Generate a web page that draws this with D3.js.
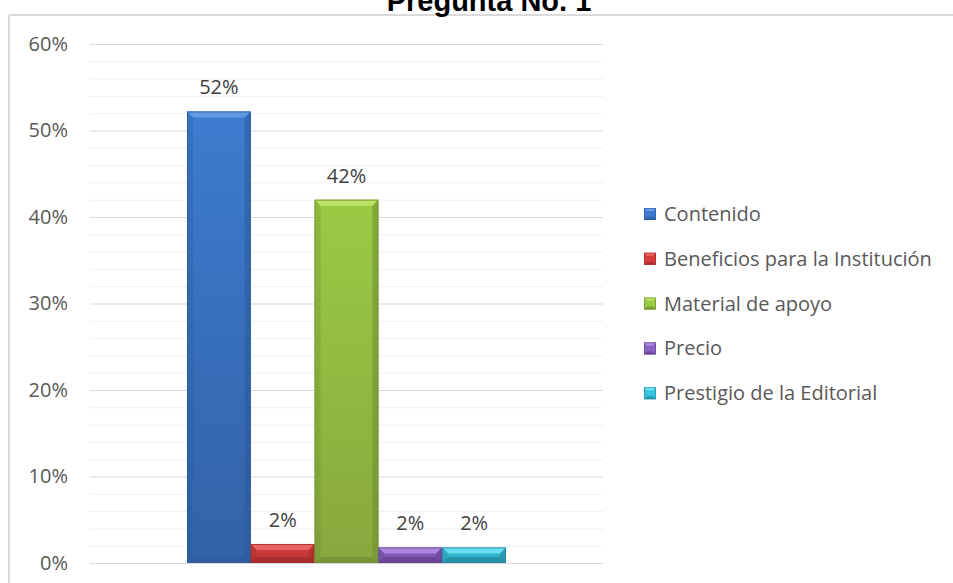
<!DOCTYPE html>
<html>
<head>
<meta charset="utf-8">
<script src="https://cdn.jsdelivr.net/npm/d3@7"></script>
<style>
  html, body { margin: 0; padding: 0; background: #fff; }
  svg text { font-family: "Open Sans", "Noto Sans", sans-serif; }
</style>
</head>
<body>
<div id="chart"></div>
<script>
// data
var series = ["Contenido", "Beneficios para la Institución", "Material de apoyo", "Precio", "Prestigio de la Editorial"];
var values = [52.2, 2.2, 42.0, 1.8, 1.8];
var labels = ["52%", "2%", "42%", "2%", "2%"];
var yTicks = [0, 10, 20, 30, 40, 50, 60];
var title = "Pregunta No. 1";

// colours per series: main, light (top bevel), dark (edges), bottom of gradient
var colors = [
  {main: "#3d7ccf", light: "#66a0e8", dark: "#2c5a9a", bottom: "#3262a6"},
  {main: "#d63e3c", light: "#ee6a68", dark: "#a02a2a", bottom: "#b83434"},
  {main: "#9acb44", light: "#c0e66a", dark: "#6e8e30", bottom: "#88a83e"},
  {main: "#8c62c4", light: "#b48ee6", dark: "#62428e", bottom: "#7650a6"},
  {main: "#36c4de", light: "#72e4f4", dark: "#23879c", bottom: "#2ea6bc"}
];

var width = 953, height = 583;
var plot = {left: 90, right: 603, top: 44, bottom: 563};

var svg = d3.select("#chart").append("svg")
  .attr("width", width)
  .attr("height", height);

// chart area border (top and left visible)
svg.append("line").attr("x1", 9).attr("x2", width).attr("y1", 15).attr("y2", 15)
  .attr("stroke", "#d9d9d9").attr("stroke-width", 2);
svg.append("line").attr("x1", 9).attr("x2", 9).attr("y1", 15).attr("y2", height)
  .attr("stroke", "#d9d9d9").attr("stroke-width", 2);

// title, cut by the top of the picture as in the source
svg.append("text")
  .attr("x", 489).attr("y", 11)
  .attr("text-anchor", "middle")
  .style("font-family", "'Liberation Sans', Arial, sans-serif")
  .style("font-weight", "bold")
  .style("font-size", "29px")
  .attr("fill", "#000")
  .text(title);

var y = d3.scaleLinear().domain([0, 60]).range([plot.bottom, plot.top]);

var x0 = d3.scaleBand().domain(["all"]).range([plot.left, plot.right])
  .paddingInner(0).paddingOuter(0.304);
var x1 = d3.scaleBand().domain(d3.range(series.length)).range([0, x0.bandwidth()]);

// minor gridlines every 2%
var minor = d3.range(0, 61, 2).filter(function (d) { return d % 10 !== 0; });
svg.append("g").selectAll("line").data(minor).enter().append("line")
  .attr("x1", plot.left).attr("x2", plot.right)
  .attr("y1", function (d) { return y(d) + 0.5; })
  .attr("y2", function (d) { return y(d) + 0.5; })
  .attr("stroke", "#f0f0f0").attr("stroke-width", 1);

// y axis with major gridlines
var yAxis = d3.axisLeft(y).tickValues(yTicks)
  .tickSize(-(plot.right - plot.left))
  .tickPadding(22)
  .tickFormat(function (d) { return d + "%"; });

var gy = svg.append("g").attr("transform", "translate(" + plot.left + ",0)").call(yAxis);
gy.select(".domain").remove();
gy.selectAll(".tick line").attr("stroke", "#d9d9d9").attr("stroke-width", 1.2);
gy.selectAll(".tick text")
  .attr("fill", "#595959")
  .style("font-size", "20px")
  .style("font-family", "'Open Sans', sans-serif");

// bars with bevel
var bev = 6;
var defs = svg.append("defs");
var bars = svg.append("g").selectAll("g.bar").data(values).enter().append("g")
  .attr("class", "bar");

bars.each(function (v, i) {
  var g = d3.select(this);
  var c = colors[i];
  var bx = x0("all") + x1(i), bw = x1.bandwidth();
  var by = y(v), bh = y(0) - y(v);
  var b = Math.min(bev, bh / 2.2);
  var gid = "grad" + i;
  var grad = defs.append("linearGradient").attr("id", gid)
    .attr("x1", 0).attr("y1", 0).attr("x2", 0).attr("y2", 1);
  grad.append("stop").attr("offset", "0%").attr("stop-color", c.main);
  grad.append("stop").attr("offset", "100%").attr("stop-color", c.bottom);

  g.append("rect").attr("x", bx).attr("y", by).attr("width", bw).attr("height", bh)
    .attr("fill", "url(#" + gid + ")");
  // top bevel
  g.append("polygon").attr("points", [[bx, by], [bx + bw, by], [bx + bw - b, by + b], [bx + b, by + b]].join(" "))
    .attr("fill", c.light).attr("opacity", 0.85);
  // left bevel
  g.append("polygon").attr("points", [[bx, by], [bx + b, by + b], [bx + b, by + bh - b], [bx, by + bh]].join(" "))
    .attr("fill", c.dark).attr("opacity", 0.3);
  // right bevel
  g.append("polygon").attr("points", [[bx + bw, by], [bx + bw - b, by + b], [bx + bw - b, by + bh - b], [bx + bw, by + bh]].join(" "))
    .attr("fill", c.dark).attr("opacity", 0.55);
  // bottom bevel
  g.append("polygon").attr("points", [[bx, by + bh], [bx + b, by + bh - b], [bx + bw - b, by + bh - b], [bx + bw, by + bh]].join(" "))
    .attr("fill", c.dark).attr("opacity", 0.7);
  g.append("rect").attr("x", bx + 0.5).attr("y", by + 0.5).attr("width", bw - 1).attr("height", bh - 1)
    .attr("fill", "none").attr("stroke", c.dark).attr("stroke-width", 1).attr("opacity", 0.8);

  // value label
  g.append("text")
    .attr("x", bx + bw / 2).attr("y", by - 17)
    .attr("text-anchor", "middle")
    .attr("fill", "#404040")
    .style("font-size", "20px")
    .text(labels[i]);
});

// legend
var legend = svg.append("g").attr("transform", "translate(644,214)");
var items = legend.selectAll("g").data(series).enter().append("g")
  .attr("transform", function (d, i) { return "translate(0," + (i * 44.8) + ")"; });

items.each(function (d, i) {
  var g = d3.select(this), c = colors[i], s = 12, b = 3;
  g.append("rect").attr("x", 0).attr("y", -s / 2).attr("width", s).attr("height", s).attr("fill", c.main);
  g.append("polygon").attr("points", [[0, -s / 2], [s, -s / 2], [s - b, -s / 2 + b], [b, -s / 2 + b]].join(" "))
    .attr("fill", c.light);
  g.append("polygon").attr("points", [[0, s / 2], [b, s / 2 - b], [s - b, s / 2 - b], [s, s / 2]].join(" "))
    .attr("fill", c.dark).attr("opacity", 0.7);
  g.append("rect").attr("x", 0.5).attr("y", -s / 2 + 0.5).attr("width", s - 1).attr("height", s - 1)
    .attr("fill", "none").attr("stroke", c.dark).attr("stroke-width", 1).attr("opacity", 0.6);
  g.append("text").attr("x", 20).attr("y", 0).attr("dy", "0.35em")
    .attr("fill", "#595959")
    .style("font-size", "20px")
    .text(d);
});
</script>
</body>
</html>
